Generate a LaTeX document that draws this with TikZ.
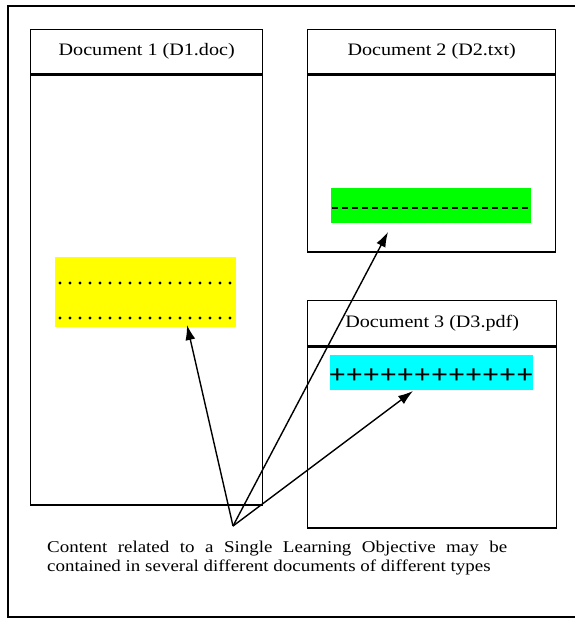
\documentclass[tikz,border=0pt]{standalone}
\usepackage{fontspec}
\setmainfont{Liberation Serif}
\usetikzlibrary{arrows.meta}
\definecolor{hlyellow}{RGB}{255,255,0}
\definecolor{hlgreen}{RGB}{0,255,0}
\definecolor{hlcyan}{RGB}{0,255,255}
\newcommand{\wide}[1]{\scalebox{1.15}[1]{#1}}

\begin{document}
\begin{tikzpicture}[
    x=1pt, y=-1pt,
    frame/.style={draw, line width=1.4pt},
    head/.style={frame, anchor=north west, inner sep=0pt, font=\fontsize{17.5}{20}\selectfont},
    body/.style={frame, anchor=north west, inner sep=0pt},
    hl/.style={anchor=north west, inner sep=0pt},
    ptr/.style={line width=1.4pt, -{Latex[length=15pt,width=10pt]}},
]
\useasboundingbox (0,0) rectangle (575,618);
\draw[line width=1.6pt] (8,6) rectangle (577,617);
% Document 1
\node[head, minimum width=232pt, minimum height=44pt] (d1head) at (30,29) {\wide{Document 1 (D1.doc)}};
\node[body, minimum width=232pt, minimum height=430pt] (d1body) at (d1head.south west) {};
% Document 2
\node[head, minimum width=248pt, minimum height=44pt] (d2head) at (307,29) {\wide{Document 2 (D2.txt)}};
\node[body, minimum width=248pt, minimum height=177pt] (d2body) at (d2head.south west) {};
% Document 3
\node[head, minimum width=249pt, minimum height=45pt] (d3head) at (307,300) {\wide{Document 3 (D3.pdf)}};
\node[body, minimum width=249pt, minimum height=181pt] (d3body) at (d3head.south west) {};
% highlighted content
\node[hl, fill=hlyellow, minimum width=181pt, minimum height=70pt] (hl1) at (55,257) {};
\node[hl, fill=hlgreen, minimum width=200pt, minimum height=35pt] (hl2) at (331,188) {};
\node[hl, fill=hlcyan, minimum width=203pt, minimum height=35pt] (hl3) at (330,355) {};
\foreach \y in {283,318}
  \foreach \i in {0,...,17}
    \fill (60+\i*10,\y) circle (1.6pt);
\draw[line width=2pt, dash pattern=on 6pt off 4pt] (332,208) -- (531,208);
\node[inner sep=0pt, font=\fontsize{26}{26}\selectfont\bfseries] (plus) at (431,376) {\wide{++++++++++++}};
% caption and arrows
\node[anchor=north west, inner sep=0pt, font=\fontsize{16.5}{19}\selectfont] (caption) at (47,541)
  {\wide{\parbox{400pt}{\hyphenpenalty=10000\exhyphenpenalty=10000
   Content related to a Single Learning Objective may be contained in several different documents of different types}}};
\coordinate (src) at (233,526);
\coordinate (t1) at (187,325);
\coordinate (t2) at (388,232);
\coordinate (t3) at (413,391);
\draw[ptr] (src) -- (t1);
\draw[ptr] (src) -- (t2);
\draw[ptr] (src) -- (t3);
\end{tikzpicture}
\end{document}
